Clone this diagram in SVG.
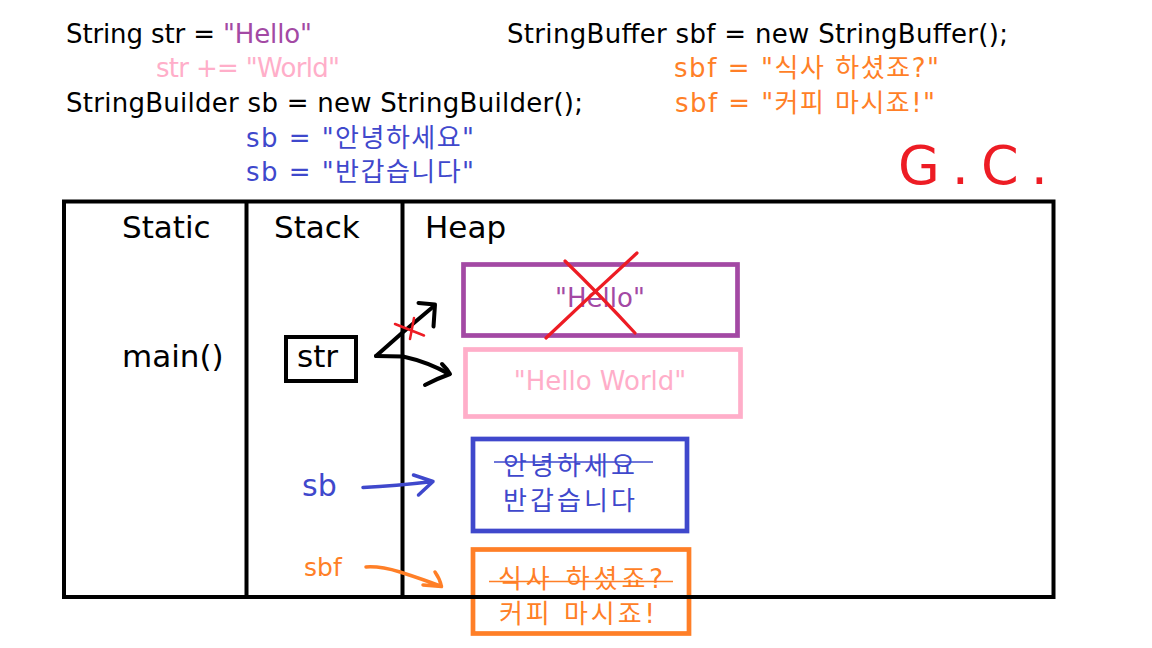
<svg xmlns="http://www.w3.org/2000/svg" width="1152" height="648" viewBox="0 0 1152 648">
<style>
text { font-family: 'DejaVu Sans', 'Noto Sans CJK KR', sans-serif; }
.code { font-size: 26px; }
.hdr { font-size: 31px; fill: #000; }
.blk { fill: #000; }
.pur { fill: #A349A4; }
.pnk { fill: #FFAEC9; }
.blu { fill: #3F48CC; }
.org { fill: #FF7F27; }
.box { fill: none; stroke-width: 4.7; }
.ink { fill: none; stroke-linecap: round; stroke-linejoin: round; }
</style>
<rect width="1152" height="648" fill="#fff"/>

<g id="code">
  <text class="code blk" x="66" y="43" textLength="246">String str = <tspan class="pur">"Hello"</tspan></text>
  <text class="code pnk" x="156" y="77" textLength="184">str += "World"</text>
  <text class="code blk" x="66" y="112" textLength="517">StringBuilder sb = new StringBuilder();</text>
  <text class="code blu" x="246" y="147" textLength="228">sb = "안녕하세요"</text>
  <text class="code blu" x="246" y="181" textLength="228">sb = "반갑습니다"</text>
  <text class="code blk" x="507" y="43" textLength="501">StringBuffer sbf = new StringBuffer();</text>
  <text class="code org" x="674" y="77" textLength="265">sbf = "식사 하셨죠?"</text>
  <text class="code org" x="675" y="112" textLength="260">sbf = "커피 마시죠!"</text>
</g>

<g id="gc">
  <text x="898" y="184" font-family="'Liberation Sans', sans-serif" font-size="54" letter-spacing="12" fill="#ED1C24">G.C.</text>
</g>

<g id="heap-hello">
  <rect class="box" x="463.5" y="264.5" width="274" height="71" stroke="#A349A4"/>
  <text class="pur" x="600" y="307" font-size="26" text-anchor="middle">"Hello"</text>
</g>
<g id="heap-helloworld">
  <rect class="box" x="465.5" y="349.5" width="275" height="67" stroke="#FFAEC9"/>
  <text class="pnk" x="600" y="390" font-size="26" text-anchor="middle">"Hello World"</text>
</g>
<g id="heap-sb">
  <rect class="box" x="473" y="439" width="214" height="92" stroke="#3F48CC"/>
  <text class="blu" x="503" y="475" font-size="26" textLength="132">안녕하세요</text>
  <line x1="494" y1="462" x2="653" y2="462" stroke="#3F48CC" stroke-width="1.6"/>
  <text class="blu" x="503" y="510" font-size="26" textLength="132">반갑습니다</text>
</g>
<g id="heap-sbf">
  <rect class="box" x="473" y="549.5" width="216" height="84" stroke="#FF7F27"/>
  <text class="org" x="498" y="588" font-size="26" textLength="165">식사 하셨죠?</text>
  <line x1="489" y1="581.5" x2="673" y2="581.5" stroke="#FF7F27" stroke-width="1.6"/>
  <text class="org" x="499" y="623" font-size="26" textLength="156">커피 마시죠!</text>
</g>

<g id="frame">
  <rect x="64" y="201.5" width="989.5" height="395.5" fill="none" stroke="#000" stroke-width="4"/>
  <line x1="246.5" y1="201.5" x2="246.5" y2="597" stroke="#000" stroke-width="4"/>
  <line x1="402.5" y1="201.5" x2="402.5" y2="597" stroke="#000" stroke-width="4"/>
</g>

<g id="headers">
  <text class="hdr" x="122" y="238">Static</text>
  <text class="hdr" x="274" y="238">Stack</text>
  <text class="hdr" x="425" y="238">Heap</text>
</g>

<g id="static-main">
  <text class="hdr" x="122" y="367">main()</text>
</g>
<g id="stack-str">
  <rect x="286" y="337" width="70" height="44" fill="none" stroke="#000" stroke-width="4"/>
  <text class="hdr" x="297" y="367">str</text>
</g>
<g id="stack-sb">
  <text class="blu" x="302" y="496" font-size="30">sb</text>
</g>
<g id="stack-sbf">
  <text class="org" x="304" y="576" font-size="25">sbf</text>
</g>

<g id="connectors">
  <path class="ink" stroke="#000" stroke-width="4" d="M376,356 L403,356.5 Q428,362 449,374"/>
  <path class="ink" stroke="#000" stroke-width="4" d="M442,364 Q447,369 450,374 Q436,379 425,385"/>
  <path class="ink" stroke="#000" stroke-width="4" d="M376,356 L402,333 L434,306"/>
  <path class="ink" stroke="#000" stroke-width="4" d="M418.5,303 L435,304.5 L433.5,326.5"/>
  <path class="ink" stroke="#ED1C24" stroke-width="2.5" d="M395,324 L424,335.5 M414,318 L410,339"/>
  <path class="ink" stroke="#3F48CC" stroke-width="3.5" d="M363,487.5 Q395,486 433,481.5 M413.5,475 L433,481.5 L418.5,495"/>
  <path class="ink" stroke="#FF7F27" stroke-width="3.5" d="M366,567 Q380,566 400,572 Q425,580 441.5,586.5 M435,572 Q440,579 441.5,586.5 L423,585"/>
  <path class="ink" stroke="#ED1C24" stroke-width="3.2" d="M565,261 Q600,295 635,333 M637,253 Q590,296 546,338"/>
</g>
</svg>
